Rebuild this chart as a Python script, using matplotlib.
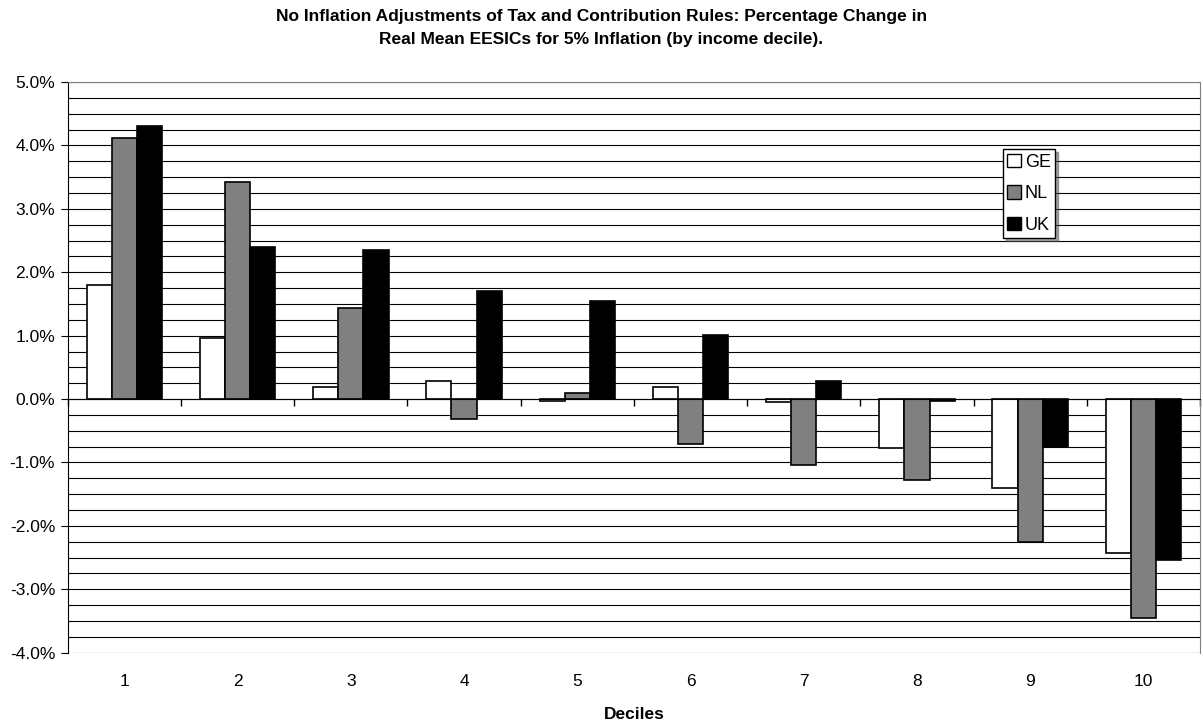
import matplotlib
matplotlib.use("Agg")
import matplotlib.pyplot as plt
import numpy as np
from matplotlib.patches import Patch
from matplotlib.ticker import MultipleLocator, FuncFormatter

plt.rcParams['font.family'] = ['Liberation Sans', 'DejaVu Sans']

deciles = ['1', '2', '3', '4', '5', '6', '7', '8', '9', '10']
series_names = ['GE', 'NL', 'UK']
ge = [1.80, 0.97, 0.19, 0.28, -0.03, 0.19, -0.05, -0.77, -1.40, -2.42]
nl = [4.11, 3.42, 1.44, -0.32, 0.09, -0.71, -1.04, -1.27, -2.25, -3.45]
uk = [4.30, 2.40, 2.35, 1.70, 1.55, 1.01, 0.28, -0.03, -0.75, -2.54]
colors = ['white', '#808080', 'black']

fig = plt.figure(figsize=(12.03, 7.24), dpi=100)
ax = fig.add_axes([0.0563, 0.0985, 0.9412, 0.7882])

x = np.arange(1, len(deciles) + 1)
w = 1 / 4.5
for i, (vals, c) in enumerate(zip([ge, nl, uk], colors)):
    ax.bar(x + (i - 1) * w, vals, width=w, color=c, edgecolor='black',
           linewidth=1.2, zorder=3)

ax.set_xlim(0.5, len(deciles) + 0.5)
ax.set_ylim(-4.0, 5.0)

# horizontal gridlines every quarter percent
ax.yaxis.set_major_locator(MultipleLocator(1.0))
ax.yaxis.set_minor_locator(MultipleLocator(0.25))
ax.yaxis.set_major_formatter(FuncFormatter(lambda v, p: f"{v:.1f}%"))
ax.grid(axis='y', which='both', color='black', linewidth=0.8, zorder=0)
ax.tick_params(axis='y', which='major', direction='out', length=5,
               labelsize=12.5, pad=4)
ax.tick_params(axis='y', which='minor', length=0)

# category axis crosses at zero, tick marks between groups
ax.spines['bottom'].set_position(('data', 0))
ax.spines['bottom'].set_zorder(4)
ax.set_xticks(np.arange(0.5, len(deciles) + 1, 1.0))
ax.set_xticklabels([])
ax.tick_params(axis='x', direction='out', length=5, width=1, color='black')
for s in ['top', 'right']:
    ax.spines[s].set_color('#808080')
ax.spines['left'].set_color('black')

sec = ax.secondary_xaxis('bottom')
sec.set_xticks(x)
sec.set_xticklabels(deciles)
sec.tick_params(length=0, labelsize=12.5, pad=15)
sec.spines['bottom'].set_visible(False)
sec.set_xlabel('Deciles', fontsize=12.5, fontweight='bold', labelpad=13)

fig.suptitle('No Inflation Adjustments of Tax and Contribution Rules: Percentage Change in\n'
             'Real Mean EESICs for 5% Inflation (by income decile).',
             fontsize=12.5, fontweight='bold', y=0.987, linespacing=1.65)

handles = [Patch(facecolor=c, edgecolor='black', linewidth=1) for c in colors]
leg = ax.legend(handles, series_names, loc='upper left',
                bbox_to_anchor=(0.826, 0.882), fancybox=False, shadow=True,
                edgecolor='black', framealpha=1, fontsize=13,
                handlelength=0.75, handleheight=0.75, handletextpad=0.2,
                borderpad=0.25, labelspacing=0.8, borderaxespad=0)
leg.get_frame().set_linewidth(1)

fig.savefig('out.png', dpi=100, facecolor='white')
